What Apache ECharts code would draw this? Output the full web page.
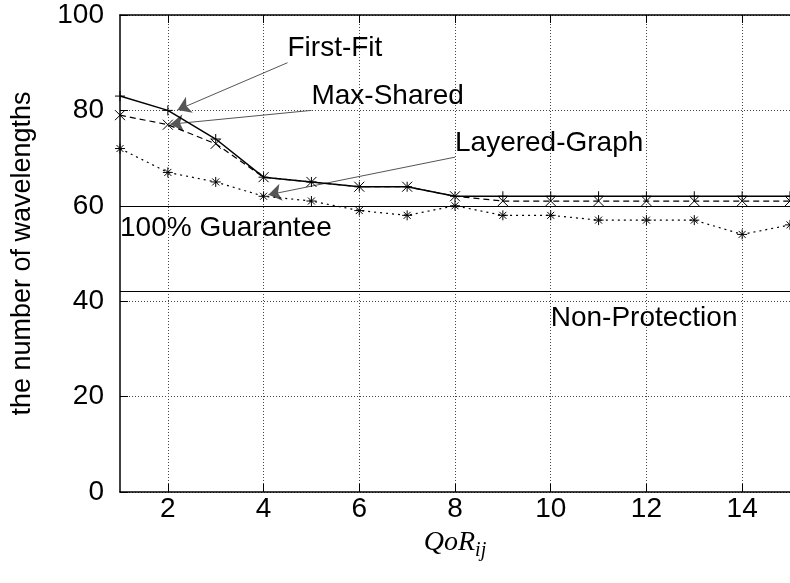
<!DOCTYPE html>
<html>
<head>
<meta charset="utf-8">
<script src="https://cdn.jsdelivr.net/npm/echarts@6/dist/echarts.min.js"></script>
<style>
  html, body { margin: 0; padding: 0; background: #fff; }
  #chart { width: 790px; height: 583px; }
</style>
</head>
<body>
<div id="chart"></div>
<script>
const qorValues = [1, 2, 3, 4, 5, 6, 7, 8, 9, 10, 11, 12, 13, 14, 15];
const firstFit = [83, 80, 74, 66, 65, 64, 64, 62, 62, 62, 62, 62, 62, 62, 62];
const maxShared = [79, 77, 73, 66, 65, 64, 64, 62, 61, 61, 61, 61, 61, 61, 61];
const layeredGraph = [72, 67, 65, 62, 61, 59, 58, 60, 58, 58, 57, 57, 57, 54, 56];

const xTicks = [2, 4, 6, 8, 10, 12, 14];
const yTicks = [0, 20, 40, 60, 80, 100];

const guaranteeLevel = 60;
const noProtectionLevel = 42;

const labelTexts = ["First-Fit", "Max-Shared", "Layered-Graph", "100% Guarantee", "Non-Protection"];
const labelX = [4.5, 5.0, 8.0, 1.0, 10.0];
const labelY = [93.1, 83.0, 73.2, 55.3, 36.5];

const arrowFrom = [[4.5, 90], [5.0, 80], [8.0, 70.2]];
const arrowTo = [[2.2, 80.1], [2.05, 77.1], [4.1, 62.3]];

const FONT = "'Liberation Sans', Arial, sans-serif";
const PLUS = "path://M5 0V10M0 5H10";
const CROSS = "path://M0 0L10 10M10 0L0 10";
const STAR = "path://M5 0V10M0 5H10M1.5 1.5L8.5 8.5M8.5 1.5L1.5 8.5";

const toPairs = (ys) => qorValues.map((x, i) => [x, ys[i]]);

const buildLineSeries = (name, values, symbol, lineType, width) => ({
  name,
  type: "line",
  data: toPairs(values),
  symbol,
  symbolSize: 10,
  showAllSymbol: true,
  clip: false,
  lineStyle: { color: "#000", width, type: lineType },
  itemStyle: { color: "#000", borderColor: "#000", borderWidth: 1 },
  emphasis: { disabled: true },
  z: 5,
});

const chart = echarts.init(document.getElementById("chart"));

chart.setOption({
  animation: false,
  backgroundColor: "#fff",
  grid: { left: 120, right: -5, top: 15, bottom: 91 },
  xAxis: [
    {
      type: "value",
      min: 1,
      max: 15,
      name: "{q|QoR}{s|ij}",
      nameLocation: "middle",
      nameGap: 33,
      nameTextStyle: {
        rich: {
          q: { fontFamily: "'Liberation Serif', serif", fontStyle: "italic", fontSize: 28, color: "#000" },
          s: { fontFamily: "'Liberation Serif', serif", fontStyle: "italic", fontSize: 20, color: "#000", padding: [16, 0, 0, 0] },
        },
      },
      axisLine: { show: true, lineStyle: { color: "#000", width: 1.5 } },
      axisTick: { show: true, inside: true, length: 8, customValues: xTicks, lineStyle: { color: "#000" } },
      axisLabel: { customValues: xTicks, color: "#000", fontFamily: FONT, fontSize: 28, margin: 3 },
      splitLine: { show: true, lineStyle: { color: "#444", width: 1, type: [1, 2] } },
    },
    {
      type: "value",
      position: "top",
      min: 1,
      max: 15,
      axisLine: { show: true, lineStyle: { color: "#000", width: 1.5 } },
      axisTick: { show: true, inside: true, length: 8, customValues: xTicks, lineStyle: { color: "#000" } },
      axisLabel: { show: false },
      splitLine: { show: false },
    },
  ],
  yAxis: {
    type: "value",
    min: 0,
    max: 100,
    interval: 20,
    name: "the number of wavelengths",
    nameLocation: "middle",
    nameGap: 84,
    nameRotate: 90,
    nameTextStyle: { color: "#000", fontFamily: FONT, fontSize: 27 },
    axisLine: { show: true, lineStyle: { color: "#000", width: 1.5 } },
    axisTick: { show: true, inside: true, length: 8, lineStyle: { color: "#000" } },
    axisLabel: { color: "#000", fontFamily: FONT, fontSize: 28, margin: 16, customValues: yTicks },
    splitLine: { show: true, lineStyle: { color: "#444", width: 1, type: [1, 2] } },
  },
  series: [
    buildLineSeries("First-Fit", firstFit, PLUS, "solid", 1.5),
    buildLineSeries("Max-Shared", maxShared, CROSS, [6, 4], 1.2),
    buildLineSeries("Layered-Graph", layeredGraph, STAR, [2, 4], 1.2),
    {
      name: "annotations",
      type: "scatter",
      symbolSize: 0,
      silent: true,
      itemStyle: { opacity: 1, color: "#000" },
      data: labelTexts.map((text, i) => ({ name: text, value: [labelX[i], labelY[i]] })),
      label: {
        show: true,
        position: "right",
        distance: 0,
        formatter: (p) => p.name,
        color: "#000",
        opacity: 1,
        fontFamily: FONT,
        fontSize: 28,
      },
      markLine: {
        silent: true,
        symbol: "none",
        label: { show: false },
        lineStyle: { color: "#000", width: 1, type: "solid" },
        data: [{ yAxis: guaranteeLevel }, { yAxis: noProtectionLevel }],
      },
      z: 4,
    },
    {
      name: "arrows",
      type: "line",
      data: [],
      markLine: {
        silent: true,
        symbol: ["none", "arrow"],
        symbolSize: 13,
        label: { show: false },
        itemStyle: { color: "#000" },
        lineStyle: { color: "#555", width: 1, type: "solid" },
        data: arrowFrom.map((from, i) => [{ coord: from }, { coord: arrowTo[i] }]),
      },
      z: 6,
    },
  ],
});
</script>
</body>
</html>
